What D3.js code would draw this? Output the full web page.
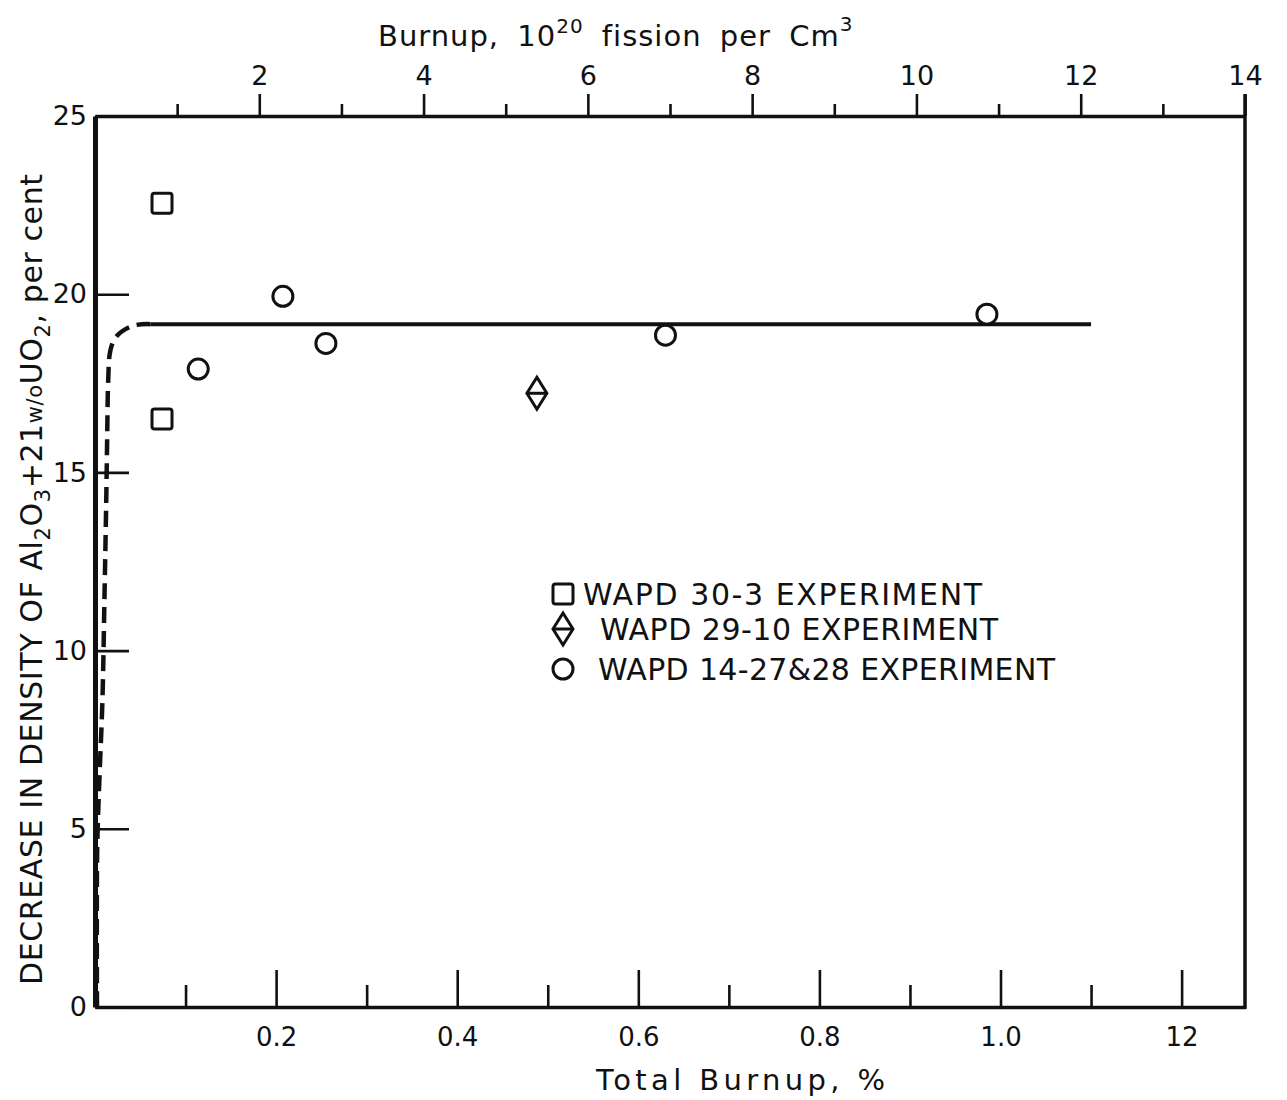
<!DOCTYPE html>
<html>
<head>
<meta charset="utf-8">
<script src="https://cdn.jsdelivr.net/npm/d3@7"></script>
<style>
  body { margin: 0; background: #fff; }
  svg text { font-family: "DejaVu Sans", sans-serif; fill: #111; }
</style>
</head>
<body>
<div id="chart"></div>
<script>
/*global d3*/
var ink = "#111";

// total burnup (%) ticks, bottom axis
var burnupTicks = [0.1, 0.2, 0.3, 0.4, 0.5, 0.6, 0.7, 0.8, 0.9, 1.0, 1.1, 1.2];
var burnupLabelTicks = [0.2, 0.4, 0.6, 0.8, 1.0, 1.2];
var burnupLabelText = ["0.2", "0.4", "0.6", "0.8", "1.0", "12"];

// fissions (10^20 per cm3) ticks, top axis
var fissionTicks = [1, 2, 3, 4, 5, 6, 7, 8, 9, 10, 11, 12, 13, 14];
var fissionLabelTicks = [2, 4, 6, 8, 10, 12, 14];

var densityTicks = [0, 5, 10, 15, 20, 25];

// measured points: [burnup %, density decrease %]
var wapd303 = [[0.074, 22.55], [0.074, 16.5]];
var wapd2910 = [[0.488, 17.22]];
var wapd1427 = [[0.114, 17.9], [0.2075, 19.94], [0.255, 18.62], [0.630, 18.85], [0.985, 19.44]];

// faired curve: dashed rise, then flat at the saturation level
var riseCurve = [[0.0022, 0], [0.0024, 4.4], [0.0048, 6.35], [0.0082, 8.6], [0.0104, 11.4],
                 [0.0124, 14.2], [0.0134, 15.9], [0.0146, 17.6], [0.0168, 18.4],
                 [0.022, 18.76], [0.030, 18.96], [0.044, 19.13], [0.061, 19.16]];
var plateau = [[0.061, 19.16], [1.100, 19.16]];

var legendNames = ["WAPD 30-3 EXPERIMENT", "WAPD 29-10 EXPERIMENT", "WAPD 14-27&28 EXPERIMENT"];

var width = 1287, height = 1100;

var svg = d3.select("#chart")
    .append("svg")
    .attr("width", width)
    .attr("height", height);

var x = d3.scaleLinear().domain([0, 1.27]).range([95, 1245]),
    xTop = d3.scaleLinear().domain([0, 14]).range([95, 1245]),
    y = d3.scaleLinear().domain([0, 25]).range([1007, 116]);

// bottom axis, ticks pointing into the plot
var bottomAxis = svg.append("g")
    .attr("transform", "translate(0,1007)")
    .call(d3.axisBottom(x)
        .tickValues(burnupTicks)
        .tickSizeInner(-36)
        .tickSizeOuter(0)
        .tickPadding(21)
        .tickFormat(function (d) {
            var i = burnupLabelTicks.indexOf(d);
            return i < 0 ? "" : burnupLabelText[i];
        }));
bottomAxis.selectAll(".tick line")
    .attr("y2", function (d) { return burnupLabelTicks.indexOf(d) < 0 ? -22 : -37; });

// top axis, ticks pointing outward
var topAxis = svg.append("g")
    .attr("transform", "translate(0,116)")
    .call(d3.axisTop(xTop)
        .tickValues(fissionTicks)
        .tickSizeInner(22)
        .tickSizeOuter(0)
        .tickPadding(9)
        .tickFormat(function (d) { return fissionLabelTicks.indexOf(d) < 0 ? "" : d; }));
topAxis.selectAll(".tick line")
    .attr("y2", function (d) { return fissionLabelTicks.indexOf(d) < 0 ? -12 : -22; });

var leftAxis = svg.append("g")
    .attr("transform", "translate(95,0)")
    .call(d3.axisLeft(y)
        .tickValues(densityTicks)
        .tickSizeInner(-34)
        .tickSizeOuter(0)
        .tickPadding(8));

// right edge of the frame
svg.append("line")
    .attr("x1", 1245).attr("x2", 1245)
    .attr("y1", 94).attr("y2", 1009)
    .attr("stroke", ink)
    .attr("stroke-width", 3.5);

[bottomAxis, topAxis, leftAxis].forEach(function (g) {
    g.attr("font-family", null);
    g.select(".domain").attr("stroke", ink).attr("stroke-width", 3.5);
    g.selectAll(".tick line").attr("stroke", ink).attr("stroke-width", 2.6);
    g.selectAll(".tick text").attr("fill", ink);
});
leftAxis.select(".domain").attr("stroke-width", 5);
bottomAxis.selectAll(".tick text").style("font-size", "26px");
topAxis.selectAll(".tick text").style("font-size", "27px");
leftAxis.selectAll(".tick text").style("font-size", "27px");

// faired curve
var line = d3.line()
    .x(function (d) { return x(d[0]); })
    .y(function (d) { return y(d[1]); });

svg.append("path")
    .datum(riseCurve)
    .attr("d", line.curve(d3.curveCatmullRom.alpha(0.5)))
    .attr("fill", "none")
    .attr("stroke", ink)
    .attr("stroke-width", 4.5)
    .attr("stroke-dasharray", "16,8");

svg.append("path")
    .datum(plateau)
    .attr("d", line.curve(d3.curveLinear))
    .attr("fill", "none")
    .attr("stroke", ink)
    .attr("stroke-width", 4);

// marker shapes
function square(g) {
    g.append("rect")
        .attr("x", -10).attr("y", -10)
        .attr("width", 20).attr("height", 20)
        .attr("rx", 2.5).attr("ry", 2.5);
}
function diamond(g) {
    g.append("path").attr("d", "M0,-16L10,0L0,16L-10,0Z");
    g.append("path").attr("d", "M-10,0H10");
}
function ring(g) {
    g.append("circle").attr("r", 10);
}

function plotSeries(data, shape) {
    svg.selectAll(null)
        .data(data)
        .enter()
        .append("g")
        .attr("transform", function (d) { return "translate(" + x(d[0]) + "," + y(d[1]) + ")"; })
        .attr("fill", "#fff")
        .attr("stroke", ink)
        .attr("stroke-width", 3)
        .each(function () { shape(d3.select(this)); });
}
plotSeries(wapd303, square);
plotSeries(wapd2910, diamond);
plotSeries(wapd1427, ring);

// legend
var legendShapes = [square, diamond, ring];
var legendY = [594, 629, 669];
var legendTextX = [583, 600, 598];
var legendWidth = [399, 398, 457];

legendNames.forEach(function (name, i) {
    var g = svg.append("g")
        .attr("transform", "translate(563," + legendY[i] + ")")
        .attr("fill", "#fff")
        .attr("stroke", ink)
        .attr("stroke-width", 3);
    legendShapes[i](g);

    svg.append("text")
        .attr("x", legendTextX[i])
        .attr("y", legendY[i] + 11)
        .attr("textLength", legendWidth[i])
        .attr("lengthAdjust", "spacing")
        .style("font-size", "30px")
        .text(name);
});

// axis titles
var topTitle = svg.append("text")
    .attr("x", 378)
    .attr("y", 46)
    .style("font-size", "29px")
    .style("letter-spacing", "1px")
    .style("word-spacing", "8px");
topTitle.append("tspan").text("Burnup, 10");
topTitle.append("tspan").attr("dy", -13).style("font-size", "20px").text("20");
topTitle.append("tspan").attr("dy", 13).text(" fission  per  Cm");
topTitle.append("tspan").attr("dy", -15).style("font-size", "20px").text("3");

svg.append("text")
    .attr("x", 596)
    .attr("y", 1090)
    .attr("textLength", 289)
    .attr("lengthAdjust", "spacing")
    .style("font-size", "29px")
    .text("Total  Burnup, %");

var yTitle = svg.append("text")
    .attr("transform", "translate(42,985) rotate(-90)")
    .style("font-size", "30px")
    .style("letter-spacing", "0.6px");
yTitle.append("tspan").text("DECREASE IN DENSITY OF Al");
yTitle.append("tspan").attr("dy", 8).style("font-size", "21px").text("2");
yTitle.append("tspan").attr("dy", -8).text("O");
yTitle.append("tspan").attr("dy", 8).style("font-size", "21px").text("3");
yTitle.append("tspan").attr("dy", -8).text("+21");
yTitle.append("tspan").style("font-size", "21px").text("w/o");
yTitle.append("tspan").text("UO");
yTitle.append("tspan").attr("dy", 8).style("font-size", "21px").text("2");
yTitle.append("tspan").attr("dy", -8).text(", per cent");
</script>
</body>
</html>
